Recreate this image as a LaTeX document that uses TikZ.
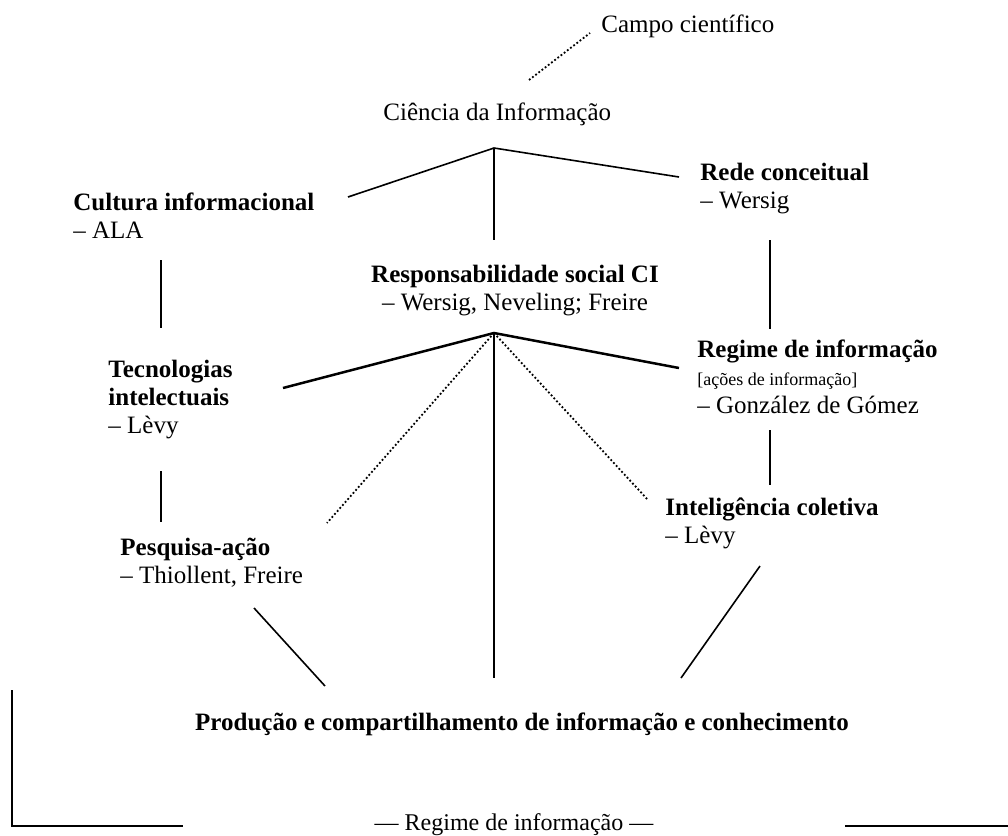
\documentclass[tikz,border=0pt]{standalone}
\usepackage{fontspec}
\setmainfont{Liberation Serif}
\begin{document}
\begin{tikzpicture}[x=0.5pt,y=-0.5pt,
  lbl/.style={inner sep=0pt,font=\fontsize{12.5}{14}\selectfont},
  blbl/.style={inner sep=0pt,font=\fontsize{12.5}{14}\selectfont\bfseries},
  slbl/.style={inner sep=0pt,font=\fontsize{9}{11}\selectfont},
  blbl2/.style={inner sep=0pt,font=\fontsize{12}{14}\selectfont},
  ln/.style={line width=0.8pt},
  thk/.style={line width=1.25pt},
  dot/.style={line width=0.9pt,dash pattern=on 0.9pt off 1.1pt}]
\useasboundingbox (0,0) rectangle (1008,836);
% texts
\node[lbl,anchor=base west] (campo) at (601,32) {Campo científico};
\node[lbl,anchor=base west] (ci) at (383,120) {Ciência da Informação};
\node[blbl,anchor=base west] (cult) at (73,210) {Cultura informacional};
\node[lbl,anchor=base west] (ala) at (73,238) {– ALA};
\node[blbl,anchor=base west] (rede) at (700,180) {Rede conceitual};
\node[lbl,anchor=base west] (wersig) at (700,208) {– Wersig};
\node[blbl,anchor=base] (resp) at (515,282) {Responsabilidade social CI};
\node[lbl,anchor=base] (respa) at (515,310) {– Wersig, Neveling; Freire};
\node[blbl,anchor=base west] (tec1) at (108,377) {Tecnologias};
\node[blbl,anchor=base west] (tec2) at (108,405) {intelectuais};
\node[lbl,anchor=base west] (tec3) at (108,433) {– Lèvy};
\node[blbl,anchor=base west] (reg1) at (697,357) {Regime de informação};
\node[slbl,anchor=base west] (reg2) at (697,385) {[ações de informação]};
\node[lbl,anchor=base west] (reg3) at (697,413) {– González de Gómez};
\node[blbl,anchor=base west] (int1) at (665,515) {Inteligência coletiva};
\node[lbl,anchor=base west] (int2) at (665,543) {– Lèvy};
\node[blbl,anchor=base west] (pes1) at (120,555) {Pesquisa-ação};
\node[lbl,anchor=base west] (pes2) at (120,583) {– Thiollent, Freire};
\node[blbl,anchor=base] (prod) at (522,730) {Produção e compartilhamento de informação e conhecimento};
\node[blbl2,anchor=base] (regb) at (514,830) {— Regime de informação —};
% coordinates
\coordinate (c1) at (529,80);
\coordinate (c2) at (590,33);
\coordinate (a1) at (494,148);
\coordinate (l1) at (348,197);
\coordinate (r1) at (679,177);
\coordinate (v1) at (494,240);
\coordinate (a2) at (494,333);
\coordinate (l2) at (283,388);
\coordinate (r2) at (679,368);
\coordinate (dl) at (327,523);
\coordinate (dr) at (648,500);
\coordinate (v2) at (494,678);
\coordinate (lv1a) at (161,260);
\coordinate (lv1b) at (161,328);
\coordinate (lv2a) at (161,471);
\coordinate (lv2b) at (161,522);
\coordinate (rv1a) at (770,240);
\coordinate (rv1b) at (770,329);
\coordinate (rv2a) at (770,430);
\coordinate (rv2b) at (770,485);
\coordinate (pl1) at (254,608);
\coordinate (pl2) at (325,686);
\coordinate (pr1) at (760,566);
\coordinate (pr2) at (681,678);
\coordinate (b1) at (12,690);
\coordinate (b2) at (12,826);
\coordinate (b3) at (183,826);
\coordinate (b4) at (845,826);
\coordinate (b5) at (1008,826);
% lines
\draw[dot] (c1) -- (c2);
\draw[ln] (l1) -- (a1) -- (r1);
\draw[ln] (a1) -- (v1);
\draw[thk] (l2) -- (a2) -- (r2);
\draw[dot] (a2) -- (dl);
\draw[dot] (a2) -- (dr);
\draw[ln] (a2) -- (v2);
\draw[ln] (lv1a) -- (lv1b);
\draw[ln] (lv2a) -- (lv2b);
\draw[ln] (rv1a) -- (rv1b);
\draw[ln] (rv2a) -- (rv2b);
\draw[ln] (pl1) -- (pl2);
\draw[ln] (pr1) -- (pr2);
\draw[ln] (b1) -- (b2) -- (b3);
\draw[ln] (b4) -- (b5);
\end{tikzpicture}
\end{document}
